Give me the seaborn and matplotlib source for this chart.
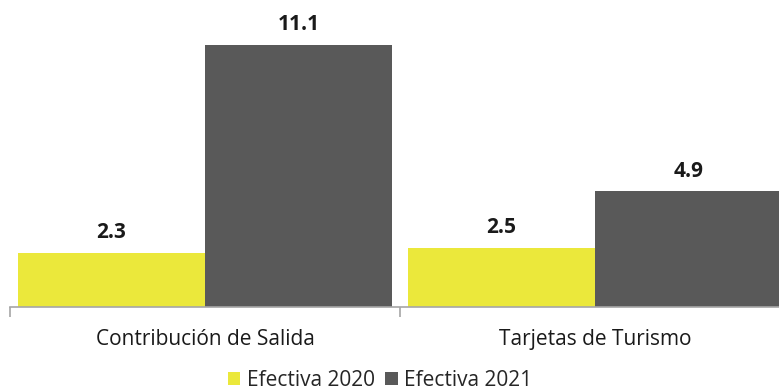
import matplotlib
matplotlib.use("Agg")
import matplotlib.pyplot as plt
import seaborn as sns
import pandas as pd
from matplotlib.patches import Patch

categories = ["Contribución de Salida", "Tarjetas de Turismo"]
series = ["Efectiva 2020", "Efectiva 2021"]
values_2020 = [2.3, 2.5]
values_2021 = [11.1, 4.9]
colors = ["#EBE83B", "#595959"]

df = pd.DataFrame({
    "categoria": categories * 2,
    "serie": [series[0]] * 2 + [series[1]] * 2,
    "valor": values_2020 + values_2021,
})

sns.set_theme(style="white")
plt.rcParams["font.family"] = ["Open Sans", "DejaVu Sans"]

fig = plt.figure(figsize=(7.79, 3.92), dpi=100)
ax = fig.add_axes([10 / 779, 85 / 392, 780 / 779, 307 / 392])

sns.barplot(data=df, x="categoria", y="valor", hue="serie", palette=colors,
            saturation=1, width=0.96, gap=0, legend=False, linewidth=0,
            edgecolor="none", ax=ax)

for cont in ax.containers:
    ax.bar_label(cont, fmt="%.1f", padding=7, fontsize=15, fontweight="bold",
                 color="#1a1a1a")

ax.set_ylim(0, 13)
ax.set_xlim(-0.5, 1.5)
ax.set_xlabel("")
ax.set_ylabel("")
ax.set_yticks([])
for s in ["left", "top", "right"]:
    ax.spines[s].set_visible(False)
ax.spines["bottom"].set_color("#A6A6A6")
ax.spines["bottom"].set_linewidth(1.2)

ax.tick_params(axis="x", which="major", length=0, pad=16, labelsize=15,
               labelcolor="#1a1a1a")
ax.set_xticks([-0.5, 0.5, 1.5], minor=True)
ax.tick_params(axis="x", which="minor", length=7, width=1.2, color="#A6A6A6",
               direction="out", bottom=True)

handles = [Patch(facecolor=c, edgecolor="none") for c in colors]
fig.legend(handles, series, loc="center", bbox_to_anchor=(380 / 779, 12 / 392),
           ncol=2, frameon=False, fontsize=15, handlelength=0.6,
           handleheight=0.6, handletextpad=0.3, columnspacing=0.5,
           borderpad=0)

fig.savefig("out.png", dpi=100)
